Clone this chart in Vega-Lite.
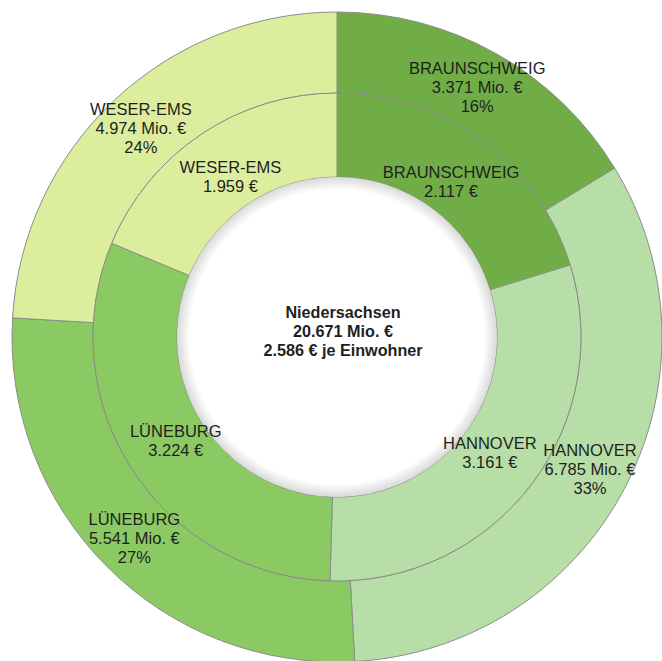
{
  "$schema": "https://vega.github.io/schema/vega-lite/v6.json",
  "autosize": {"type": "none"},
  "padding": {"left": 12, "top": 13, "right": 0, "bottom": 0},
  "width": 650,
  "height": 648,
  "background": "white",
  "config": {"view": {"stroke": null}, "text": {"font": "Liberation Sans", "color": "#1f1f1f"}},
  "datasets": {
    "regions": [
      {"region": "BRAUNSCHWEIG", "mio": 3371, "perCapita": 2117, "outerLabel": "BRAUNSCHWEIG\n3.371 Mio. €\n16%", "innerLabel": "BRAUNSCHWEIG\n2.117 €"},
      {"region": "HANNOVER", "mio": 6785, "perCapita": 3161, "outerLabel": "HANNOVER\n6.785 Mio. €\n33%", "innerLabel": "HANNOVER\n3.161 €"},
      {"region": "LÜNEBURG", "mio": 5541, "perCapita": 3224, "outerLabel": "LÜNEBURG\n5.541 Mio. €\n27%", "innerLabel": "LÜNEBURG\n3.224 €"},
      {"region": "WESER-EMS", "mio": 4974, "perCapita": 1959, "outerLabel": "WESER-EMS\n4.974 Mio. €\n24%", "innerLabel": "WESER-EMS\n1.959 €"}
    ],
    "total": [
      {"label": "Niedersachsen\n20.671 Mio. €\n2.586 € je Einwohner"}
    ]
  },
  "resolve": {"scale": {"theta": "independent"}},
  "layer": [
    {
      "data": {"name": "regions"},
      "mark": {"type": "arc", "radius": 325, "radius2": 244, "stroke": "#8c8c8c", "strokeWidth": 1},
      "encoding": {
        "theta": {"field": "mio", "type": "quantitative", "stack": true},
        "order": {"field": "region", "sort": "ascending"},
        "color": {
          "field": "region", "type": "nominal", "legend": null,
          "scale": {"domain": ["BRAUNSCHWEIG", "HANNOVER", "LÜNEBURG", "WESER-EMS"], "range": ["#70AD47", "#B6DEA6", "#8BC963", "#DCEE9D"]}
        }
      }
    },
    {
      "data": {"name": "regions"},
      "mark": {"type": "arc", "radius": 244, "radius2": 160, "stroke": "#8c8c8c", "strokeWidth": 1},
      "encoding": {
        "theta": {"field": "perCapita", "type": "quantitative", "stack": true},
        "order": {"field": "region", "sort": "ascending"},
        "color": {
          "field": "region", "type": "nominal", "legend": null,
          "scale": {"domain": ["BRAUNSCHWEIG", "HANNOVER", "LÜNEBURG", "WESER-EMS"], "range": ["#70AD47", "#B6DEA6", "#8BC963", "#DCEE9D"]}
        }
      }
    },
    {
      "data": {"name": "total"},
      "mark": {
        "type": "arc", "radius": 160, "radius2": 0, "theta": 0, "theta2": 6.2832,
        "fill": {"gradient": "radial", "x1": 0.5, "y1": 0.5, "r1": 0, "x2": 0.5, "y2": 0.5, "r2": 0.5,
          "stops": [{"offset": 0, "color": "#ffffff"}, {"offset": 0.92, "color": "#ffffff"}, {"offset": 1, "color": "#d9d9d9"}]}
      },
      "encoding": {}
    },
    {
      "data": {"name": "regions"},
      "mark": {"type": "text", "radius": 286, "lineBreak": "\n", "fontSize": 16.5, "lineHeight": 19, "align": "center", "baseline": "middle", "dy": -19},
      "encoding": {
        "theta": {"field": "mio", "type": "quantitative", "stack": true},
        "order": {"field": "region", "sort": "ascending"},
        "text": {"field": "outerLabel", "type": "nominal"}
      }
    },
    {
      "data": {"name": "regions"},
      "mark": {"type": "text", "radius": 192, "lineBreak": "\n", "fontSize": 16.5, "lineHeight": 19, "align": "center", "baseline": "middle", "dy": -9.5},
      "encoding": {
        "theta": {"field": "perCapita", "type": "quantitative", "stack": true},
        "order": {"field": "region", "sort": "ascending"},
        "text": {"field": "innerLabel", "type": "nominal"}
      }
    },
    {
      "data": {"name": "total"},
      "mark": {"type": "text", "lineBreak": "\n", "fontSize": 16.2, "fontWeight": "bold", "lineHeight": 19, "align": "center", "baseline": "middle", "dx": 6, "dy": -24},
      "encoding": {
        "text": {"field": "label", "type": "nominal"}
      }
    }
  ]
}
